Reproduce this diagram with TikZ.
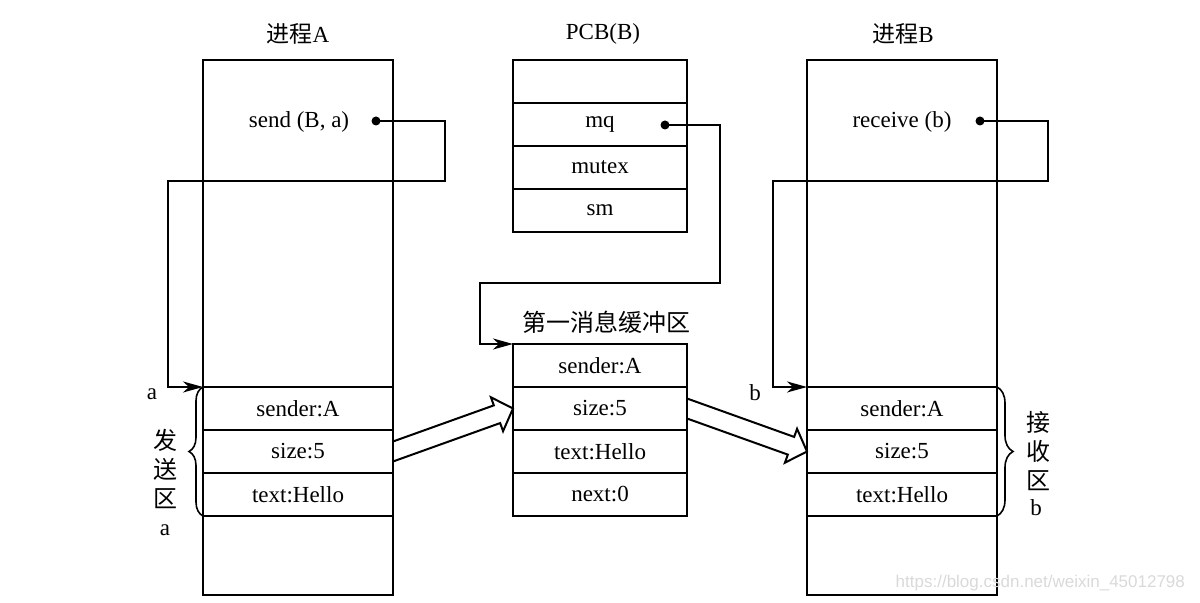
\documentclass[tikz,border=0pt]{standalone}
\usepackage{fontspec}
\setmainfont{Liberation Serif}
\setsansfont{Liberation Sans}
\newfontfamily\cjk{Noto Sans CJK SC}
\usetikzlibrary{calc,arrows.meta,decorations.pathreplacing}
\tikzset{
 cell/.style = {draw, line width=1pt, minimum width=#1, minimum height=21.5pt,
   inner sep=0pt, outer sep=0pt, anchor=north west},
 frame/.style = {draw, line width=1pt, minimum width=95pt, minimum height=267.5pt,
   inner sep=0pt, outer sep=0pt, anchor=north west},
 pin/.style = {circle, fill=black, inner sep=0pt, minimum size=4.5pt},
 ptr/.style = {line width=1pt, -{Stealth[length=10pt, width=5.5pt, inset=3pt]}},
 curly/.style = {line width=0.8pt, decorate, decoration={brace, amplitude=#1}},
 zh/.style = {font=\cjk\fontsize{12}{14.5}\selectfont, align=center}
}
\newcommand{\cellStack}[4]{
  \foreach \txt [count=\i] in {#4}
    \node[cell=#3] (#1\i) at ($#2 + (0, {(\i-1)*43})$) {\txt};
}
\newcommand{\hollowArrow}[2]{
  \coordinate (ha_t) at (#1);
  \coordinate (ha_p) at (#2);
  \coordinate (ha_b) at ($(ha_p)!8.5pt!(ha_t)$);
  \draw[line width=1pt]
    ($(ha_t) + (0,-10)$) -- ($(ha_b)!4.7pt!-90:(ha_t)$) -- ($(ha_b)!9pt!-90:(ha_t)$)
    -- (ha_p) -- ($(ha_b)!9pt!90:(ha_t)$) -- ($(ha_b)!4.7pt!90:(ha_t)$) -- ($(ha_t) + (0,10)$);
}

\begin{document}
\begin{tikzpicture}[x=0.5pt, y=-0.5pt, font=\fontsize{11.5}{14}\selectfont]
  \useasboundingbox (0,0) rectangle (1200,603);

  \node (titleA) at (298,34) {{\cjk 进程}A};
  \node (titlePCB) at (603,34) {PCB(B)};
  \node (titleB) at (903,34) {{\cjk 进程}B};

  \node[frame] (procA) at (203,60) {};
  \node[frame] (procB) at (807,60) {};
  \cellStack{sA}{(203,387)}{95pt}{sender:A,size:5,text:Hello}
  \cellStack{rB}{(807,387)}{95pt}{sender:A,size:5,text:Hello}
  \cellStack{pcb}{(513,60)}{87pt}{{},mq,mutex,sm}
  \cellStack{buf}{(513,344)}{87pt}{sender:A,size:5,text:Hello,next:0}
  \node[zh] (bufTitle) at (606,322) {第一消息缓冲区};

  \node (callA) at (299,122) {send (B, a)};
  \node (callB) at (902,122) {receive (b)};
  \node[pin] (pinA) at (376,121) {};
  \node[pin] (pinB) at (980,121) {};
  \node[pin] (pinMQ) at (665,125) {};

  \draw[ptr] (pinA.center) -- ++(69,0) -- ++(0,60) -- ++(-277,0) |- (sA1.north west);
  \draw[ptr] (pinMQ.center) -- ++(55,0) -- ++(0,158) -- ++(-240,0) |- (buf1.north west);
  \draw[ptr] (pinB.center) -- ++(68,0) -- ++(0,60) -- ++(-275,0) |- (rB1.north west);

  \hollowArrow{sA2.east}{buf2.west}
  \hollowArrow{buf2.east}{rB2.west}

  \draw[curly=7pt] (sA3.south west) -- (sA1.north west);
  \draw[curly=8pt] (rB1.north east) -- (rB3.south east);

  \node (ptrA) at (152,394) {a};
  \node[zh] (zoneA) at (165,469) {发\\送\\区};
  \node (nameA) at (165,530) {a};
  \node (ptrB) at (755,393) {b};
  \node[zh] (zoneB) at (1038,451) {接\\收\\区};
  \node (nameB) at (1036,508) {b};

  \node[anchor=east, text=gray!30, font=\sffamily\fontsize{8.5}{10}\selectfont]
    (mark) at (1192,583) {https://blog.csdn.net/weixin\_45012798};
\end{tikzpicture}
\end{document}
